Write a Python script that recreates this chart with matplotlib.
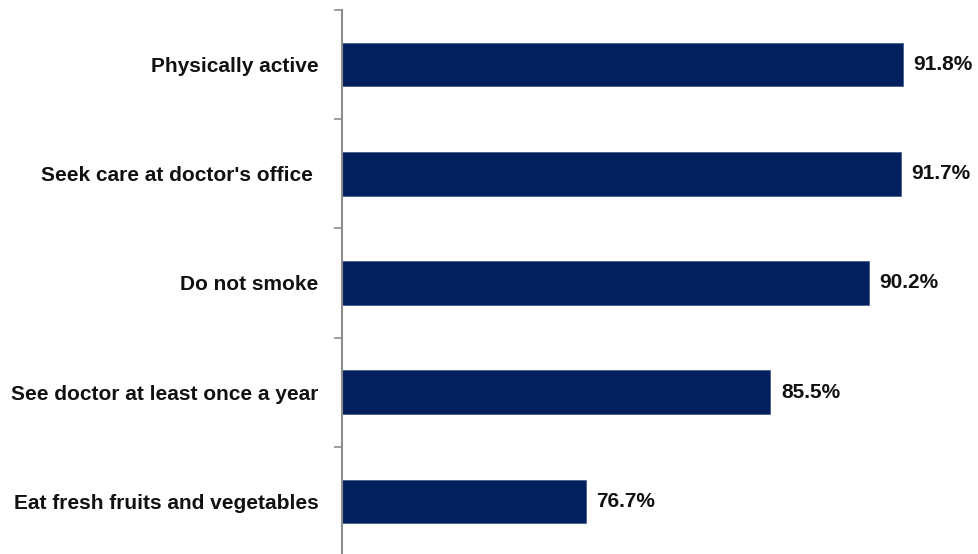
import matplotlib
matplotlib.use("Agg")
import matplotlib.pyplot as plt

categories = [
    "Physically active",
    "Seek care at doctor's office ",
    "Do not smoke",
    "See doctor at least once a year",
    "Eat fresh fruits and vegetables",
]
values = [91.8, 91.7, 90.2, 85.5, 76.7]
value_labels = ["91.8%", "91.7%", "90.2%", "85.5%", "76.7%"]

W, H = 979, 554
fig = plt.figure(figsize=(W / 100, H / 100), dpi=100)
fig.patch.set_facecolor("white")

# axes: left spine at x=342px, top at y=10px, 109.2px per category
left_px, top_px, bottom_px = 342, 10, 556
xmin, xmax = 65.1, 100
px_per_unit = 21.0
width_px = (xmax - xmin) * px_per_unit
ax = fig.add_axes([left_px / W, 1 - bottom_px / H, width_px / W, (bottom_px - top_px) / H])

pos = list(range(len(categories)))
ax.barh(pos, [v - xmin for v in values], left=xmin, height=0.40,
        color="#02205E", edgecolor="#4A5E8C", linewidth=0.6)

ax.set_xlim(xmin, xmax)
ax.set_ylim(len(categories) - 0.5, -0.5)

font = dict(fontsize=15, fontweight="bold", family="Liberation Sans", color="#111111")
for p, v, lab in zip(pos, values, value_labels):
    ax.text(v + 0.5, p, lab, va="center", ha="left", **font)

ax.set_yticks([i - 0.5 for i in range(len(categories) + 1)])
ax.set_yticklabels([])
ax.set_yticks(pos, minor=True)
ax.set_yticklabels(categories, minor=True, **font)
ax.tick_params(axis="y", which="major", length=6, width=1.2, color="#8C8C8C", direction="out")
ax.tick_params(axis="y", which="minor", length=0, pad=17)
ax.set_xticks([])

for s in ["top", "right", "bottom"]:
    ax.spines[s].set_visible(False)
ax.spines["left"].set_color("#8C8C8C")
ax.spines["left"].set_linewidth(1.5)

fig.savefig("out.png", dpi=100)
